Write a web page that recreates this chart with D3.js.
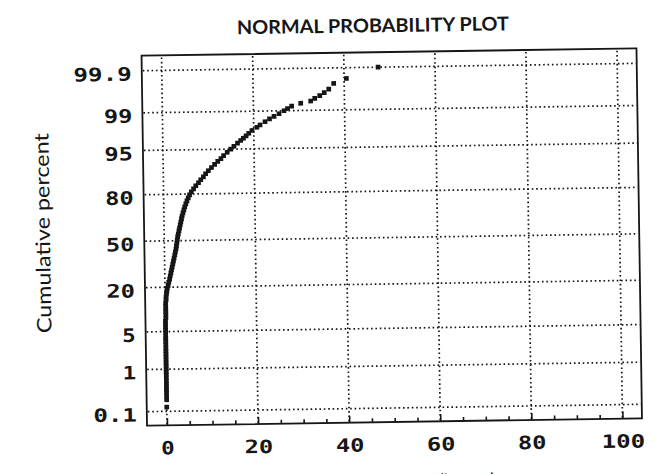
<!DOCTYPE html>
<html><head><meta charset="utf-8">
<script src="https://cdn.jsdelivr.net/npm/d3@7"></script>
<style>html,body{margin:0;padding:0;background:#fff;} svg{display:block}</style>
</head><body>
<svg id="chart" width="666" height="474"></svg>
<script>
const chartTitle = "NORMAL PROBABILITY PLOT";
const yTitle = "Cumulative percent";
const xTitle = "Hours to repair (hours)";
const xTicks = [0, 20, 40, 60, 80, 100];
const xMinorTicks = [5, 10, 15, 25, 30, 35, 45, 50, 55, 65, 70, 75, 85, 90, 95];
const yTicks = [0.1, 1, 5, 20, 50, 80, 95, 99, 99.9];
const yTickLabels = ["0.1", "1", "5", "20", "50", "80", "95", "99", "99.9"];

// observations (hours) and their cumulative percent (plotting position)
const hours = [
  0, 0, 0, 0, 0, 0, 0, 0, 0, 0,
  0, 0, 0, 0, 0, 0, 0, 0, 0, 0,
  0, 0, 0, 0, 0, 0, 0, 0, 0.1, 0.1,
  0.1, 0.1, 0.1, 0.1, 0.2, 0.2, 0.3, 0.4, 0.5, 0.7,
  0.85, 1.05, 1.2, 1.35, 1.5, 1.65, 1.8, 1.95, 2.1, 2.25,
  2.4, 2.55, 2.65, 2.75, 2.85, 2.95, 3.1, 3.25, 3.4, 3.55,
  3.7, 3.85, 4.0, 4.2, 4.4, 4.6, 4.85, 5.1, 5.4, 5.7,
  6.1, 6.6, 7.1, 7.7, 8.2, 8.8, 9.3, 9.9, 10.6, 11.3,
  12.0, 12.7, 13.3, 14.1, 14.9, 15.6, 16.4, 17.1, 17.7, 18.3,
  18.9, 19.6, 20.7, 21.4, 22.5, 23.5, 24.5, 25.6, 26.7, 27.5,
  28.4, 30.4, 32.6, 33.5, 34.6, 35.6, 36.6, 37.7, 40.5, 47.5
];
const percent = [
  0.13, 0.20, 0.25, 0.30, 0.35, 0.41, 0.48, 0.56, 0.66, 0.77,
  0.89, 1.02, 1.17, 1.35, 1.55, 1.77, 2.0, 2.3, 2.6, 3.0,
  3.4, 3.8, 4.2, 4.8, 5.3, 5.9, 6.6, 7.3, 8.1, 9.0,
  9.9, 10.8, 11.9, 13.0, 14.2, 15.4, 16.7, 18.0, 19.5, 21.0,
  22.6, 24.4, 26.2, 28.0, 29.8, 31.7, 33.7, 35.7, 37.7, 39.8,
  41.9, 44.0, 46.2, 48.3, 50.5, 52.7, 54.8, 57.0, 59.1, 61.2,
  63.2, 65.3, 67.2, 69.2, 71.1, 72.9, 74.7, 76.4, 78.0, 79.6,
  81.1, 82.5, 83.9, 85.2, 86.4, 87.5, 88.6, 89.6, 90.6, 91.5,
  92.3, 93.0, 93.7, 94.4, 95.0, 95.5, 96.0, 96.4, 96.7, 97.0,
  97.3, 97.6, 97.9, 98.1, 98.35, 98.55, 98.7, 98.85, 99.0, 99.1,
  99.2, 99.3, 99.37, 99.45, 99.52, 99.59, 99.66, 99.75, 99.81, 99.90
];

// inverse standard normal CDF (Acklam) for the probability axis
function probit(p) {
  const a = [-3.969683028665376e+01, 2.209460984245205e+02, -2.759285104469687e+02, 1.383577518672690e+02, -3.066479806614716e+01, 2.506628277459239e+00];
  const b = [-5.447609879822406e+01, 1.615858368580409e+02, -1.556989798598866e+02, 6.680131188771972e+01, -1.328068155288572e+01];
  const c = [-7.784894002430293e-03, -3.223964580411365e-01, -2.400758277161838e+00, -2.549732539343734e+00, 4.374664141464968e+00, 2.938163982698783e+00];
  const d = [7.784695709041462e-03, 3.224671290700398e-01, 2.445134137142996e+00, 3.754408661907416e+00];
  const pl = 0.02425, ph = 1 - pl;
  let q, r;
  if (p < pl) {
    q = Math.sqrt(-2 * Math.log(p));
    return (((((c[0]*q+c[1])*q+c[2])*q+c[3])*q+c[4])*q+c[5]) / ((((d[0]*q+d[1])*q+d[2])*q+d[3])*q+1);
  }
  if (p <= ph) {
    q = p - 0.5; r = q * q;
    return (((((a[0]*r+a[1])*r+a[2])*r+a[3])*r+a[4])*r+a[5])*q / (((((b[0]*r+b[1])*r+b[2])*r+b[3])*r+b[4])*r+1);
  }
  q = Math.sqrt(-2 * Math.log(1 - p));
  return -(((((c[0]*q+c[1])*q+c[2])*q+c[3])*q+c[4])*q+c[5]) / ((((d[0]*q+d[1])*q+d[2])*q+d[3])*q+1);
}

const frame = {left: 144.25, right: 639.25, top: 52, bottom: 422};
const x = d3.scaleLinear().domain([0, 100]).range([164.25, 619.75]);
const z = d3.scaleLinear().domain([probit(0.001), probit(0.999)]).range([408, 67]);
const yPos = p => z(probit(p / 100));

const ink = "#161616";
const svg = d3.select("#chart");
svg.append("rect").attr("width", 666).attr("height", 474).attr("fill", "#fff");
const g = svg.append("g").attr("transform", "rotate(-0.85 391.75 237)");

// title
g.append("text").attr("x", 376).attr("y", 32).attr("text-anchor", "middle")
  .attr("font-family", "Lato, 'Open Sans', sans-serif").attr("font-size", 19).attr("font-weight", 700)
  .attr("textLength", 272).attr("lengthAdjust", "spacingAndGlyphs")
  .attr("fill", ink).text(chartTitle);

// y title
g.append("text").attr("transform", "translate(50,228) rotate(-90)").attr("text-anchor", "middle")
  .attr("font-family", "Lato, 'Open Sans', sans-serif").attr("font-size", 20)
  .attr("textLength", 200).attr("lengthAdjust", "spacingAndGlyphs")
  .attr("fill", ink).text(yTitle);

// x title (cut off at the bottom of the page, as in the original)
g.append("text").attr("x", 398).attr("y", 489).attr("text-anchor", "middle")
  .attr("font-family", "Lato, 'Open Sans', sans-serif").attr("font-size", 20)
  .attr("textLength", 188).attr("lengthAdjust", "spacingAndGlyphs")
  .attr("fill", ink).text(xTitle);

// grid
const grid = g.append("g").attr("stroke", ink).attr("stroke-width", 1.7)
  .attr("stroke-dasharray", "1.6,2.8").attr("fill", "none");
grid.selectAll("line.h").data(yTicks).join("line").attr("class", "h")
  .attr("x1", frame.left + 1).attr("x2", frame.right - 1)
  .attr("y1", d => yPos(d)).attr("y2", d => yPos(d));
grid.selectAll("line.v").data(xTicks).join("line").attr("class", "v")
  .attr("x1", d => x(d)).attr("x2", d => x(d))
  .attr("y1", frame.top + 2).attr("y2", frame.bottom - 1);

const styleTickText = sel => sel
  .attr("fill", ink).attr("font-family", "'DejaVu Sans Mono', monospace")
  .attr("font-weight", "bold").attr("font-size", 18.5)
  .attr("lengthAdjust", "spacingAndGlyphs")
  .attr("textLength", function() { return 15 * this.textContent.length - 1.5; });

// x axis ticks & labels
const xAxisMajor = d3.axisBottom(x).tickValues(xTicks).tickSize(-7).tickPadding(0).tickFormat(d3.format("d"));
const xa = g.append("g").attr("transform", `translate(0,${frame.bottom})`).call(xAxisMajor);
const xAxisMinor = d3.axisBottom(x).tickValues(xMinorTicks).tickSize(-4).tickFormat("");
const xm = g.append("g").attr("transform", `translate(0,${frame.bottom})`).call(xAxisMinor);
[xa, xm].forEach(s => {
  s.select(".domain").remove();
  s.selectAll(".tick line").attr("stroke", ink).attr("stroke-width", 1.6);
});
xa.selectAll(".tick text").attr("y", 22.5).attr("dy", "0.36em").call(styleTickText);

// y axis labels
const zTickVals = yTicks.map(p => probit(p / 100));
const yAxis = d3.axisLeft(z).tickValues(zTickVals).tickSize(0).tickPadding(10)
  .tickFormat((d, i) => yTickLabels[i]);
const ya = g.append("g").attr("transform", `translate(${frame.left},0)`).call(yAxis);
ya.select(".domain").remove();
ya.selectAll(".tick text").attr("dy", "0.36em").attr("y", 2.5).call(styleTickText);

// frame
g.append("rect").attr("x", frame.left).attr("y", frame.top)
  .attr("width", frame.right - frame.left).attr("height", frame.bottom - frame.top)
  .attr("fill", "none").attr("stroke", ink).attr("stroke-width", 1.8);

// points
const pts = hours.map((h, i) => ({h, p: percent[i]}));
const s = 4.7;
g.append("g").selectAll("rect").data(pts).join("rect")
  .attr("x", d => x(d.h) - s / 2).attr("y", d => yPos(d.p) - s / 2)
  .attr("width", s).attr("height", s).attr("fill", ink);
</script>
</body></html>
